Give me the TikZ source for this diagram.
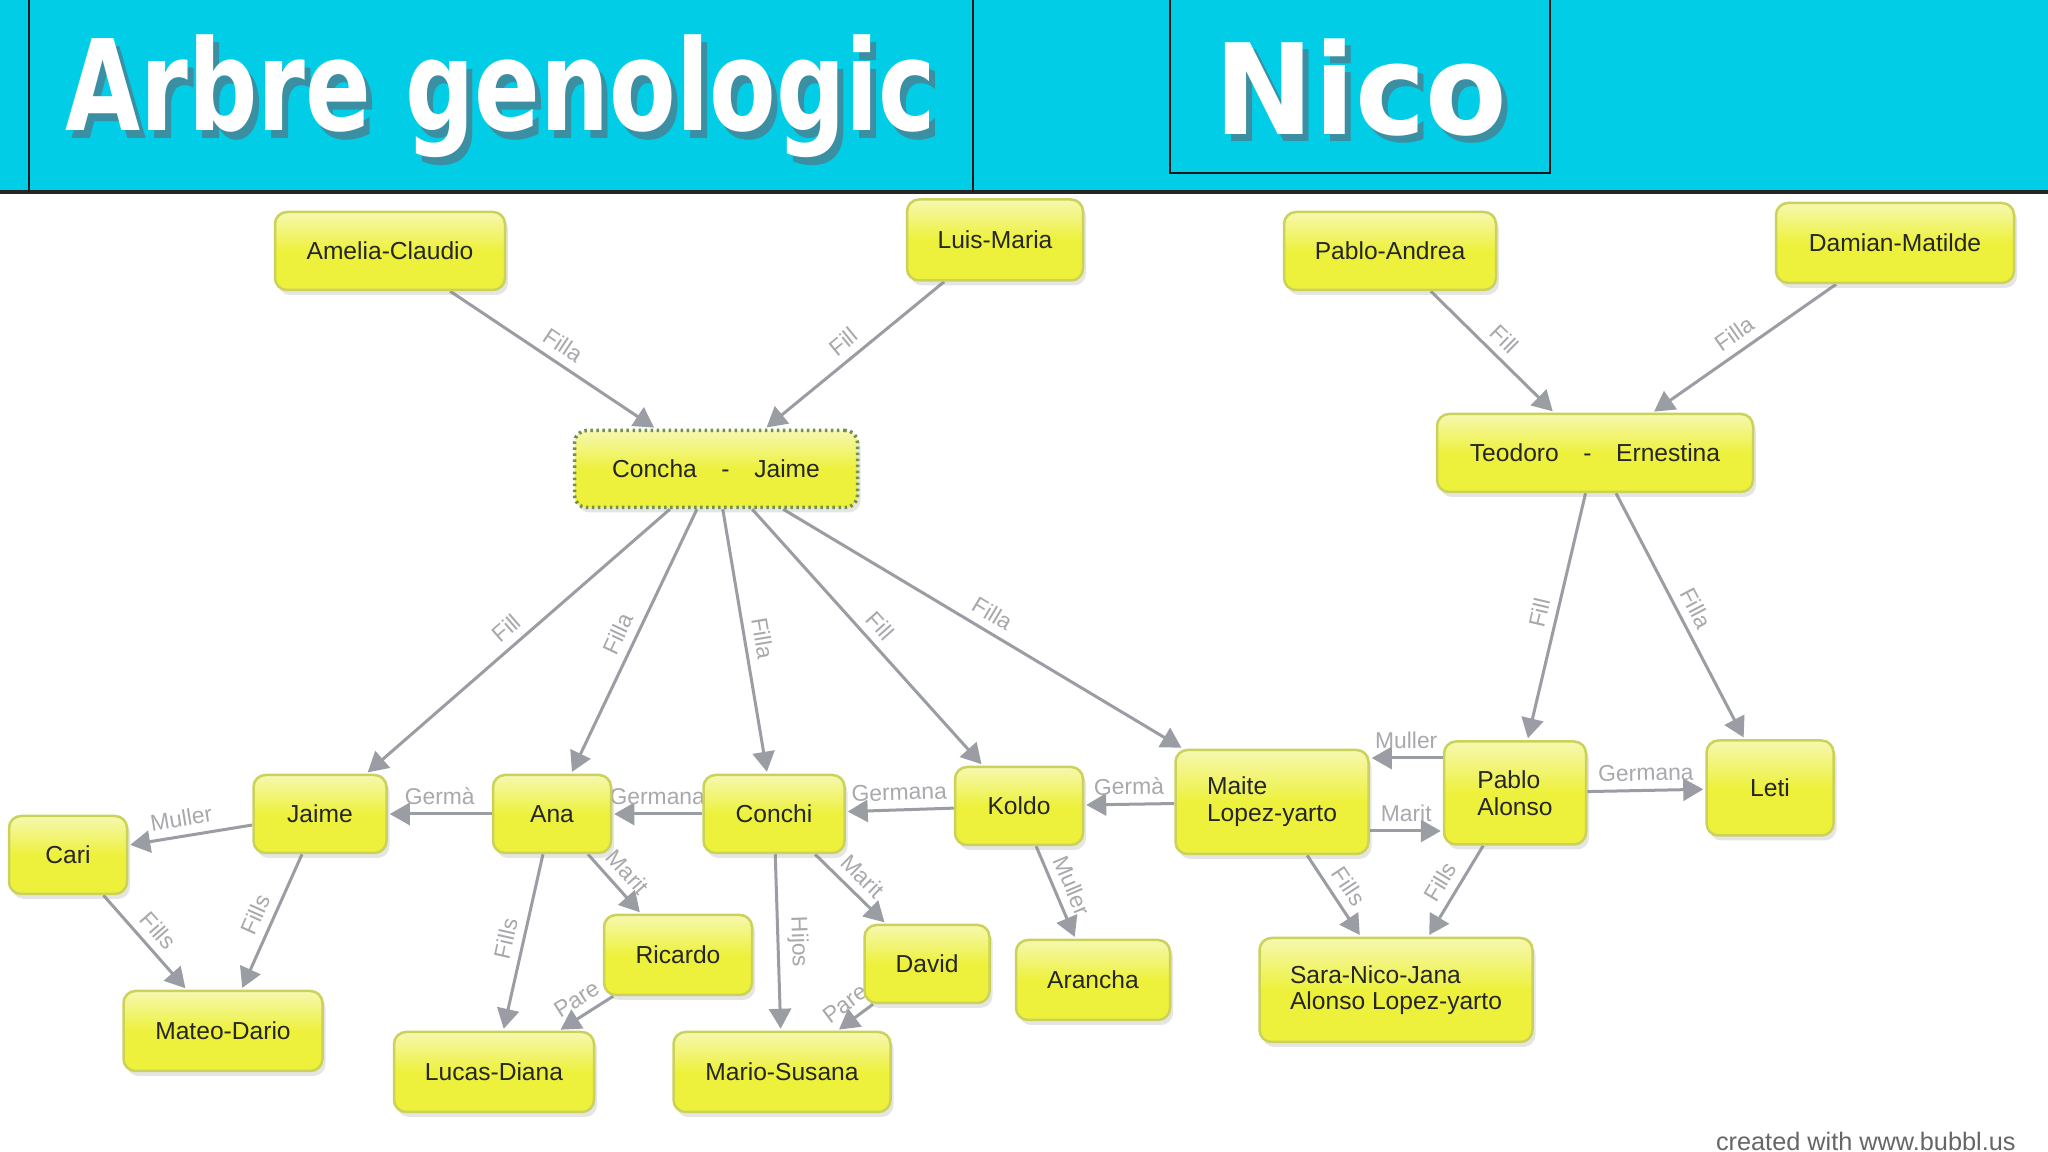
\documentclass[tikz,border=0pt]{standalone}
\usepackage{fontspec}
\setmainfont{Liberation Sans}
\newfontfamily\titlefont{DejaVu Sans}
\usetikzlibrary{positioning, arrows.meta, shadows, backgrounds}
\definecolor{HeaderCyan}{HTML}{02CDE6}
\definecolor{TitleShade}{HTML}{3A8FA3}
\definecolor{NodeYellow}{HTML}{EDF13C}
\definecolor{NodeLight}{HTML}{F6F8B0}
\definecolor{NodeBorder}{HTML}{CBD25A}
\definecolor{CoupleDots}{HTML}{6F8F55}
\definecolor{EdgeGray}{HTML}{9B9DA4}
\definecolor{LabelGray}{HTML}{A9A9AD}
\newcommand{\shadowtitle}[1]{\makebox[0pt][l]{\hspace{0.6mm}\raisebox{-0.6mm}{\textcolor{TitleShade}{#1}}}#1}

\begin{document}
\begin{tikzpicture}[x=0.1mm, y=-0.1mm,
    person/.style={rectangle, rounded corners=1.2mm, draw=NodeBorder, line width=0.25mm,
        top color=NodeLight, bottom color=NodeYellow, middle color=NodeYellow,
        drop shadow={opacity=0.2, shadow xshift=0.3mm, shadow yshift=-0.5mm},
        inner sep=0pt, text=black!85, align=center, font=\fontsize{7}{7.6}\selectfont},
    couple/.style={person, draw=CoupleDots, densely dotted, line width=0.35mm},
    rel/.style={draw=EdgeGray, line width=0.3mm, -{Triangle[length=2mm, width=2.2mm]}, shorten >=0.2mm},
    lbl/.style={sloped, above, inner sep=0.8mm, text=LabelGray, font=\fontsize{6.5}{7}\selectfont},
    title/.style={anchor=base, text=white, font=\titlefont\bfseries}]
    \useasboundingbox (0,0) rectangle (2048,1152);

    % Header band
    \fill[HeaderCyan] (0,0) rectangle (2048,192);
    \draw[line width=0.4mm, black!85] (0,192) -- (2048,192);
    \draw[line width=0.25mm, black!90] (29,0) -- (29,192) (973,0) -- (973,192);
    \draw[line width=0.25mm, black!90] (1170,0) |- (1550,173) -- (1550,0);
    \node[title, font=\titlefont\bfseries\fontsize{27.6}{30}\selectfont] (arbre) at (501,131) {\scalebox{1}[1.3]{\shadowtitle{Arbre genologic}}};
    \node[title, font=\titlefont\bfseries\fontsize{33.8}{36}\selectfont] (nico) at (1361,135) {\scalebox{1}[1.06]{\shadowtitle{Nico}}};

    % Grandparents
    \node[person, minimum width=23mm, minimum height=7.8mm] (amelia) at (390,251) {Amelia-Claudio};
    \node[person, minimum width=17.6mm, minimum height=8.1mm] (luis) at (995,240) {Luis-Maria};
    \node[person, minimum width=21.2mm, minimum height=7.8mm] (pabloandrea) at (1390,251) {Pablo-Andrea};
    \node[person, minimum width=23.8mm, minimum height=8mm] (damian) at (1895,243) {Damian-Matilde};

    % Parents
    \node[couple, minimum width=28.3mm, minimum height=7.7mm] (concha) at (716,469) {Concha\quad-\quad Jaime};
    \node[person, minimum width=31.6mm, minimum height=7.8mm] (teodoro) at (1595,453) {Teodoro\quad-\quad Ernestina};

    % Children and partners
    \node[person, minimum width=11.8mm, minimum height=7.8mm] (cari) at (68,855) {Cari};
    \node[person, minimum width=13.3mm, minimum height=7.8mm] (jaime) at (320,814) {Jaime};
    \node[person, minimum width=11.8mm, minimum height=7.8mm] (ana) at (552,814) {Ana};
    \node[person, minimum width=14.1mm, minimum height=7.8mm] (conchi) at (774,814) {Conchi};
    \node[person, minimum width=12.8mm, minimum height=7.8mm] (koldo) at (1019,806) {Koldo};
    \node[person, minimum width=19.3mm, minimum height=10.4mm, align=left] (maite) at (1272,802) {Maite\\Lopez-yarto};
    \node[person, minimum width=14.2mm, minimum height=10.3mm, align=left] (pablo) at (1515,793) {Pablo\\Alonso};
    \node[person, minimum width=12.7mm, minimum height=9.5mm] (leti) at (1770,788) {Leti};

    % Grandchildren
    \node[person, minimum width=19.9mm, minimum height=8mm] (mateo) at (223,1031) {Mateo-Dario};
    \node[person, minimum width=14.8mm, minimum height=8mm] (ricardo) at (678,955) {Ricardo};
    \node[person, minimum width=20mm, minimum height=8mm] (lucas) at (494,1072) {Lucas-Diana};
    \node[person, minimum width=12.5mm, minimum height=7.8mm] (david) at (927,964) {David};
    \node[person, minimum width=21.7mm, minimum height=8mm] (mario) at (782,1072) {Mario-Susana};
    \node[person, minimum width=15.4mm, minimum height=8mm] (arancha) at (1093,980) {Arancha};
    \node[person, minimum width=27.3mm, minimum height=10.4mm, align=left] (sara) at (1396,990) {Sara-Nico-Jana\\Alonso Lopez-yarto};

    \node[anchor=base east, text=black!60, font=\fontsize{7.2}{8}\selectfont] (credit) at (2028,1150) {created with www.bubbl.us};

    \begin{scope}[on background layer]
        \fill[white] (0,192) rectangle (2048,1152);
        % Grandparents to parents
        \draw[rel] (amelia) -- node[lbl]{Filla} (concha);
        \draw[rel] (luis) -- node[lbl]{Fill} (concha);
        \draw[rel] (pabloandrea) -- node[lbl]{Fill} (teodoro);
        \draw[rel] (damian) -- node[lbl]{Filla} (teodoro);

        % Parents to children
        \draw[rel] (concha) -- node[lbl]{Fill} (jaime);
        \draw[rel] (concha) -- node[lbl]{Filla} (ana);
        \draw[rel] (concha) -- node[lbl]{Filla} (conchi);
        \draw[rel] (concha) -- node[lbl]{Fill} (koldo);
        \draw[rel] (concha) -- node[lbl]{Filla} (maite);
        \draw[rel] (teodoro) -- node[lbl]{Fill} (pablo);
        \draw[rel] (teodoro) -- node[lbl]{Filla} (leti);

        % Siblings and partners
        \draw[rel] (jaime) -- node[lbl, pos=0.55]{Muller} (cari);
        \draw[rel] (ana) -- node[lbl]{Germà} (jaime);
        \draw[rel] (conchi) -- node[lbl]{Germana} (ana);
        \draw[rel] (koldo) -- node[lbl]{Germana} (conchi);
        \draw[rel] (maite) -- node[lbl]{Germà} (koldo);
        \draw[rel] (pablo) -- node[lbl]{Germana} (leti);
        \coordinate (mu) at ([yshift=3.5mm]pablo.west);
        \coordinate (ma) at ([yshift=-2.9mm]maite.east);
        \draw[rel] (mu) -- node[lbl]{Muller} (mu -| maite.east);
        \draw[rel] (ma) -- node[lbl]{Marit} (ma -| pablo.west);

        % Grandchildren
        \draw[rel] (cari) -- node[lbl]{Fills} (mateo);
        \draw[rel] (jaime) -- node[lbl]{Fills} (mateo);
        \draw[rel] (ana) -- node[lbl]{Marit} (ricardo);
        \draw[rel] (ana) -- node[lbl]{Fills} (lucas);
        \draw[rel] (ricardo) -- node[lbl]{Pare} (lucas);
        \draw[rel] (conchi) -- node[lbl]{Hijos} (mario);
        \draw[rel] (conchi) -- node[lbl]{Marit} (david);
        \draw[rel] (david) -- node[lbl]{Pare} (mario);
        \draw[rel] (koldo) -- node[lbl]{Muller} (arancha);
        \draw[rel] (maite) -- node[lbl]{Fills} (sara);
        \draw[rel] (pablo) -- node[lbl]{Fills} (sara);
    \end{scope}
\end{tikzpicture}
\end{document}
